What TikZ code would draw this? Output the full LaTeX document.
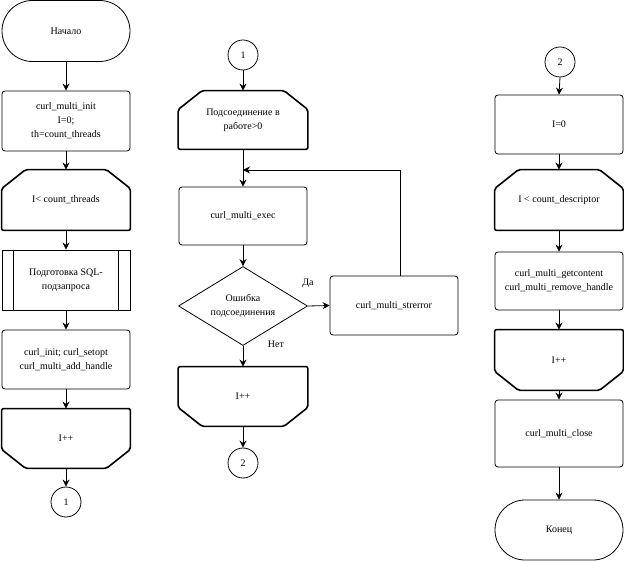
\documentclass[tikz,border=0pt]{standalone}
\usepackage{fontspec}
\setmainfont{Liberation Serif}
\usetikzlibrary{shapes.geometric,shapes.misc,arrows.meta,positioning}

% outlines of the loop limits
\newcommand{\loopbegline}[1]{%
    \draw[loopline] ([xshift=24pt]#1.north west) -- ([xshift=-24pt]#1.north east) -- ([yshift=-19pt]#1.north east) -- (#1.south east) -- (#1.south west) -- ([yshift=-19pt]#1.north west) -- cycle;}
\newcommand{\loopendline}[1]{%
    \draw[loopline] (#1.north west) -- (#1.north east) -- ([yshift=19pt]#1.south east) -- ([xshift=-24pt]#1.south east) -- ([xshift=24pt]#1.south west) -- ([yshift=19pt]#1.south west) -- cycle;}

\begin{document}
\begin{tikzpicture}[x=1pt, y=-1pt, line width=0.8pt,
        font=\fontsize{10}{14}\selectfont,
        box/.style={rectangle, draw, rounded corners=3pt, minimum width=128pt, minimum height=59pt, inner sep=0pt, align=center},
        term/.style={rounded rectangle, draw, minimum width=128pt, minimum height=61pt, inner sep=0pt},
        loopbox/.style={rectangle, minimum width=128pt, minimum height=59pt, inner sep=0pt, align=center},
        loopline/.style={line width=1.6pt, rounded corners=2pt},
        decision/.style={diamond, draw, aspect=1.63, minimum width=129pt, minimum height=79pt, inner sep=0pt, align=center},
        conn/.style={circle, draw, minimum size=30pt, inner sep=0pt},
        arr/.style={-{Stealth[length=7pt,width=7pt]}}
        ]
    \useasboundingbox (0,0) rectangle (624,561);

        % Nodes
        \node[term] (start) at (66,31) {Начало};
        \node[box, minimum height=60pt] (init) at (66,121) {curl\_multi\_init\\I=0;\\th=count\_threads};
        \node[loopbox, minimum height=60pt] (loopa) at (66,200) {I< count\_threads};
        \node[rectangle, draw, minimum width=128pt, minimum height=60pt, inner sep=0pt, align=center] (prep) at (66,280) {Подготовка SQL-\\подзапроса};
        \node[box] (setopt) at (66,359.5) {curl\_init; curl\_setopt\\curl\_multi\_add\_handle};
        \node[loopbox] (inca) at (66,438.5) {I++};
        \node[conn] (onea) at (66,502) {1};

        \node[conn] (oneb) at (243,55) {1};
        \node[loopbox, minimum width=129pt, minimum height=58pt] (work) at (243,120) {Подсоединение в\\работе>0};
        \node[box, minimum height=58pt] (exec) at (243,216) {curl\_multi\_exec};
        \node[decision] (err) at (243,306) {Ошибка\\подсоединения};
        \node[box] (strerr) at (394,305.5) {curl\_multi\_strerror};
        \node[loopbox, minimum width=129pt] (incb) at (243,396.5) {I++};
        \node[conn] (twoa) at (243,463) {2};
        \coordinate (back) at (243,170);
        \node (yes) at (308,283) {Да};
        \node (no) at (276,344) {Нет};

        \node[conn] (twob) at (560,62) {2};
        \node[box] (izero) at (559,124.5) {I=0};
        \node[loopbox, minimum height=60pt] (loopc) at (559,200) {I < count\_descriptor};
        \node[box, minimum height=58pt] (getc) at (559,281) {curl\_multi\_getcontent\\curl\_multi\_remove\_handle};
        \node[loopbox, minimum height=60pt] (incc) at (559,360) {I++};
        \node[box, minimum height=67pt] (close) at (559,433.5) {curl\_multi\_close};
        \node[term, minimum height=60pt] (stop) at (559,530) {Конец};

        % Shapes
        \loopbegline{loopa}
        \loopendline{inca}
        \loopbegline{work}
        \loopendline{incb}
        \loopbegline{loopc}
        \loopendline{incc}
        \draw ([xshift=12pt]prep.north west) -- ([xshift=12pt]prep.south west);
        \draw ([xshift=-12pt]prep.north east) -- ([xshift=-12pt]prep.south east);

        % Lines
        \draw[arr] (start.south) -- (init.north);
        \draw[arr] (init.south) -- (loopa.north);
        \draw[arr] (loopa.south) -- (prep.north);
        \draw[arr] (prep.south) -- (setopt.north);
        \draw[arr] (setopt.south) -- (inca.north);
        \draw[arr] (inca.south) -- (onea.north);

        \draw[arr] (oneb.south) -- (work.north);
        \draw[arr] (work.south) -- (exec.north);
        \draw[arr] (exec.south) -- (err.north);
        \draw[arr] (err.east) -- (strerr.west);
        \draw[arr] ([xshift=6pt]strerr.north) |- (back);
        \draw[arr] (err.south) -- (incb.north);
        \draw[arr] (incb.south) -- (twoa.north);

        \draw[arr] (twob.south) -- (izero.north);
        \draw[arr] (izero.south) -- (loopc.north);
        \draw[arr] (loopc.south) -- (getc.north);
        \draw[arr] (getc.south) -- (incc.north);
        \draw[arr] (incc.south) -- (close.north);
        \draw[arr] (close.south) -- (stop.north);

    \end{tikzpicture}
\end{document}
